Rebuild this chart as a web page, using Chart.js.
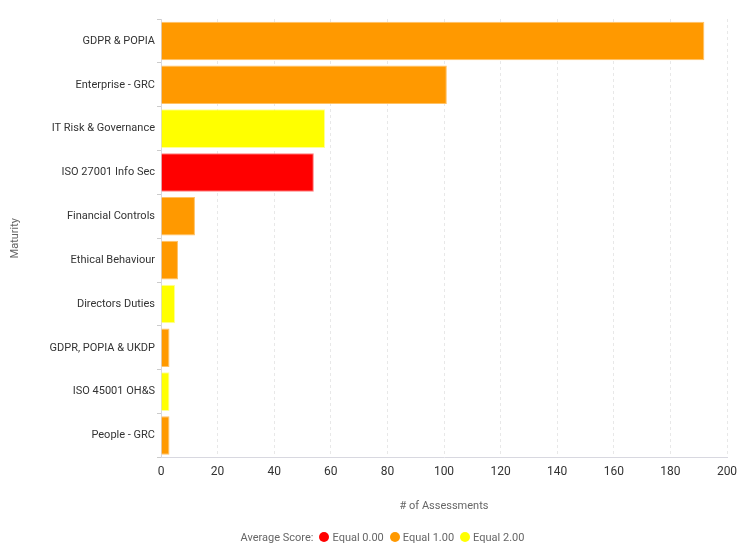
<!DOCTYPE html>
<html>
<head>
<meta charset="utf-8">
<script src="https://cdn.jsdelivr.net/npm/chart.js@4/dist/chart.umd.min.js"></script>
<style>
  html, body { margin: 0; padding: 0; background: #fff; }
  #wrap { position: relative; width: 753px; height: 558px; }
  #legend {
    position: absolute; left: 17px; right: 0; top: 530px;
    text-align: center; font: 11px Roboto, sans-serif; color: #666;
  }
  #legend span { display: inline-block; margin-right: 5px; vertical-align: middle; }
  #legend .dot { width: 10px; height: 10px; border-radius: 50%; margin-right: 3px; margin-left: 1px; }
</style>
</head>
<body>
<div id="wrap">
  <canvas id="chart" width="753" height="558"></canvas>
  <div id="legend"></div>
</div>
<script>
// Datos del gráfico
const categories = ['GDPR & POPIA', 'Enterprise - GRC', 'IT Risk & Governance', 'ISO 27001 Info Sec',
  'Financial Controls', 'Ethical Behaviour', 'Directors Duties', 'GDPR, POPIA & UKDP',
  'ISO 45001 OH&S', 'People - GRC'];
const assessments = [192, 101, 58, 54, 12, 6, 5, 3, 3, 3];
const averageScores = [1, 1, 2, 0, 1, 1, 2, 1, 2, 1];
const scoreLabels = ['Equal 0.00', 'Equal 1.00', 'Equal 2.00'];
const xTicks = [0, 20, 40, 60, 80, 100, 120, 140, 160, 180, 200];

const scoreColors = ['#ff0000', '#ff9900', '#ffff00'];
const scoreBorders = ['#ff8080', '#ffc266', '#ffff99'];

const ctx = document.getElementById('chart').getContext('2d');
Chart.defaults.font.family = 'Roboto, sans-serif';

new Chart(ctx, {
  type: 'bar',
  data: {
    labels: categories,
    datasets: [{
      label: '# of Assessments',
      data: assessments,
      backgroundColor: averageScores.map(s => scoreColors[s]),
      borderColor: averageScores.map(s => scoreBorders[s]),
      borderWidth: 1,
      categoryPercentage: 1,
      barPercentage: 0.88
    }]
  },
  options: {
    indexAxis: 'y',
    responsive: false,
    animation: false,
    layout: { padding: { left: 9, right: 26, top: 19, bottom: 45 } },
    plugins: {
      legend: { display: false },
      tooltip: { enabled: false }
    },
    scales: {
      x: {
        min: 0,
        max: 200,
        afterBuildTicks: scale => { scale.ticks = xTicks.map(v => ({ value: v })); },
        ticks: { color: '#333', font: { size: 12 }, padding: 7 },
        grid: { color: '#e8e8e8', drawTicks: false, tickLength: 0 },
        border: { color: '#d8d8e0', dash: [3, 3] },
        title: {
          display: true, text: '# of Assessments', color: '#666',
          font: { size: 11 }, padding: { top: 14, bottom: 0 }
        }
      },
      y: {
        afterFit: scale => { scale.width = 152; },
        ticks: { color: '#333', font: { size: 11 }, padding: 2 },
        grid: { drawOnChartArea: false, tickLength: 4, color: '#ccc' },
        border: { color: '#d8d8e0' },
        title: {
          display: true, text: 'Maturity', color: '#666',
          font: { size: 11 }, padding: 0
        }
      }
    }
  }
});

// Leyenda HTML
const legend = document.getElementById('legend');
let html = '<span>Average Score:</span>';
scoreLabels.forEach((lbl, i) => {
  html += '<span class="dot" style="background:' + scoreColors[i] + '"></span><span>' + lbl + '</span>';
});
legend.innerHTML = html;
</script>
</body>
</html>
